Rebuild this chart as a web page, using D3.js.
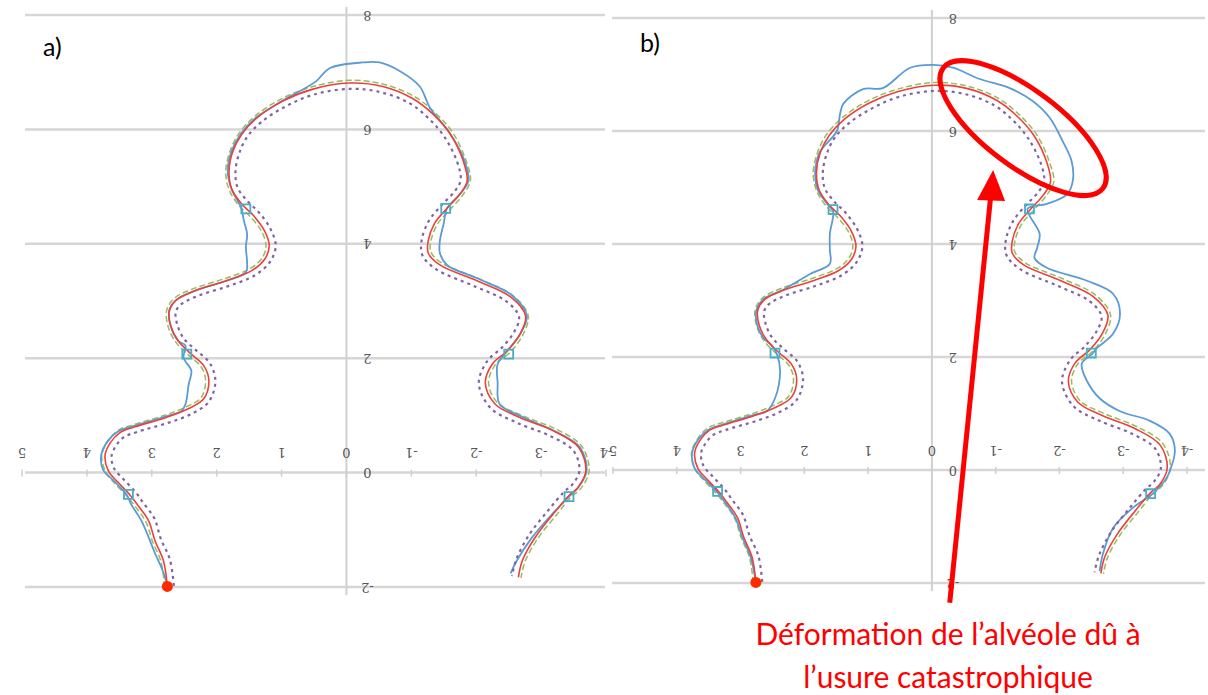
<html>
<head>
<meta charset="utf-8">
<script src="https://d3js.org/d3.v7.min.js"></script>
<style>
  body { margin: 0; background: #fff; }
  svg { display: block; }
</style>
</head>
<body>
<svg width="1208" height="695"></svg>
<script>
// tick labels (the whole figure is printed upside down, labels read rotated)
var xTicks = [5, 4, 3, 2, 1, 0, -1, -2, -3, -4];
var yTicks = [8, 6, 4, 2, 0, -2];

// nominal profile (red), same in both charts
var nominal = [
  [2.76,-1.99],[2.82,-1.54],[2.95,-1.19],[3.05,-0.84],[3.21,-0.58],[3.33,-0.40],[3.52,-0.17],[3.67,0.03],
  [3.72,0.30],[3.64,0.52],[3.49,0.70],[3.26,0.80],[2.79,0.96],[2.43,1.12],[2.20,1.29],[2.12,1.61],
  [2.20,1.87],[2.40,2.08],[2.59,2.30],[2.71,2.57],[2.73,2.83],[2.62,3.02],[2.33,3.18],[1.86,3.35],
  [1.46,3.53],[1.26,3.73],[1.19,3.96],[1.26,4.22],[1.43,4.49],[1.61,4.69],[1.77,4.96],[1.81,5.27],
  [1.75,5.62],[1.61,5.92],[1.38,6.20],[0.99,6.49],[0.53,6.70],[-0.05,6.81],[-0.56,6.75],[-1.02,6.54],
  [-1.33,6.27],[-1.60,5.92],[-1.80,5.45],[-1.86,5.10],[-1.75,4.87],[-1.55,4.62],[-1.36,4.36],[-1.26,4.05],
  [-1.26,3.84],[-1.44,3.63],[-2.02,3.35],[-2.53,3.07],[-2.76,2.74],[-2.68,2.43],[-2.48,2.13],[-2.25,1.90],
  [-2.14,1.57],[-2.29,1.20],[-2.68,0.96],[-3.19,0.73],[-3.58,0.44],[-3.69,0.03],[-3.57,-0.26],[-3.43,-0.40],
  [-3.19,-0.72],[-2.91,-1.13],[-2.71,-1.54],[-2.65,-1.83]
];

// lower tolerance (purple dotted)
var tolMin = [
  [2.66,-1.98],[2.72,-1.52],[2.86,-1.16],[2.96,-0.80],[3.13,-0.53],[3.25,-0.34],[3.44,-0.11],[3.58,0.07],
  [3.62,0.29],[3.55,0.47],[3.43,0.62],[3.23,0.71],[2.75,0.87],[2.38,1.03],[2.12,1.24],[2.02,1.61],
  [2.11,1.92],[2.33,2.15],[2.51,2.35],[2.61,2.60],[2.63,2.81],[2.55,2.94],[2.29,3.09],[1.82,3.26],
  [1.41,3.45],[1.18,3.68],[1.09,3.96],[1.17,4.26],[1.35,4.55],[1.53,4.75],[1.68,4.99],[1.71,5.27],
  [1.65,5.59],[1.53,5.87],[1.31,6.13],[0.94,6.40],[0.50,6.61],[-0.06,6.71],[-0.53,6.65],[-0.97,6.46],
  [-1.26,6.20],[-1.51,5.87],[-1.71,5.42],[-1.76,5.11],[-1.67,4.92],[-1.47,4.68],[-1.27,4.40],[-1.16,4.07],
  [-1.17,3.80],[-1.39,3.55],[-1.97,3.26],[-2.47,2.99],[-2.66,2.72],[-2.59,2.47],[-2.40,2.19],[-2.17,1.95],
  [-2.04,1.56],[-2.22,1.13],[-2.63,0.87],[-3.14,0.64],[-3.50,0.38],[-3.59,0.03],[-3.48,-0.21],[-3.35,-0.34],
  [-3.11,-0.66],[-2.82,-1.08],[-2.62,-1.51],[-2.55,-1.81]
];

// upper tolerance (green dashed)
var tolMax = [
  [2.80,-2.00],[2.86,-1.55],[2.99,-1.20],[3.09,-0.86],[3.25,-0.60],[3.37,-0.43],[3.56,-0.20],[3.71,0.01],
  [3.77,0.30],[3.68,0.54],[3.52,0.74],[3.28,0.84],[2.81,1.00],[2.45,1.16],[2.24,1.31],[2.17,1.61],
  [2.24,1.85],[2.43,2.05],[2.63,2.28],[2.75,2.56],[2.77,2.84],[2.65,3.05],[2.35,3.22],[1.88,3.39],
  [1.48,3.57],[1.30,3.75],[1.24,3.96],[1.30,4.20],[1.47,4.46],[1.65,4.66],[1.81,4.95],[1.86,5.27],
  [1.79,5.63],[1.65,5.94],[1.41,6.23],[1.01,6.53],[0.54,6.74],[-0.05,6.86],[-0.57,6.79],[-1.04,6.58],
  [-1.36,6.30],[-1.64,5.94],[-1.84,5.46],[-1.91,5.10],[-1.79,4.85],[-1.59,4.59],[-1.40,4.34],[-1.30,4.04],
  [-1.30,3.86],[-1.46,3.67],[-2.04,3.39],[-2.56,3.10],[-2.80,2.75],[-2.72,2.41],[-2.52,2.10],[-2.29,1.88],
  [-2.19,1.57],[-2.32,1.23],[-2.70,1.00],[-3.21,0.77],[-3.62,0.47],[-3.74,0.03],[-3.61,-0.28],[-3.46,-0.43],
  [-3.23,-0.75],[-2.95,-1.15],[-2.75,-1.56],[-2.69,-1.84]
];

// measured profile, chart a)
var measuredA = [
  [2.76,-1.99],[2.82,-1.75],[2.95,-1.41],[3.16,-0.84],[3.32,-0.55],[3.38,-0.40],[3.58,-0.15],[3.75,0.05],
  [3.78,0.30],[3.68,0.55],[3.52,0.72],[3.26,0.82],[2.79,0.98],[2.54,1.08],[2.48,1.20],[2.43,1.55],
  [2.39,1.78],[2.51,2.01],[2.48,2.22],[2.59,2.30],[2.71,2.57],[2.73,2.83],[2.62,3.02],[2.33,3.18],
  [1.86,3.35],[1.55,3.50],[1.53,3.65],[1.55,3.95],[1.53,4.17],[1.58,4.40],[1.62,4.62],[1.77,4.96],
  [1.83,5.27],[1.77,5.62],[1.63,5.92],[1.40,6.20],[1.00,6.49],[0.47,6.84],[0.26,7.07],[-0.25,7.17],
  [-0.51,7.17],[-0.82,7.02],[-1.13,6.75],[-1.24,6.49],[-1.29,6.37],[-1.60,5.92],[-1.82,5.45],[-1.88,5.10],
  [-1.75,4.87],[-1.55,4.62],[-1.50,4.36],[-1.44,4.05],[-1.44,3.84],[-1.55,3.63],[-2.05,3.38],[-2.55,3.10],
  [-2.78,2.74],[-2.68,2.43],[-2.48,2.13],[-2.33,1.90],[-2.33,1.57],[-2.36,1.20],[-2.70,0.98],[-3.20,0.73],
  [-3.60,0.44],[-3.70,0.03],[-3.57,-0.26],[-3.45,-0.40],[-3.15,-0.75],[-2.85,-1.15],[-2.62,-1.55],[-2.53,-1.76]
];

// measured profile, chart b) (worn)
var measuredB = [
  [2.76,-1.99],[2.84,-1.55],[2.97,-1.20],[3.08,-0.85],[3.24,-0.58],[3.36,-0.40],[3.56,-0.17],[3.72,0.03],
  [3.76,0.30],[3.67,0.53],[3.51,0.71],[3.27,0.81],[2.80,0.97],[2.59,1.04],[2.46,1.27],[2.38,1.75],
  [2.43,2.05],[2.52,2.22],[2.63,2.32],[2.74,2.57],[2.75,2.83],[2.63,3.03],[2.33,3.19],[1.91,3.47],
  [1.60,3.65],[1.60,3.90],[1.60,4.18],[1.55,4.58],[1.65,4.72],[1.79,4.96],[1.83,5.27],[1.76,5.62],
  [1.49,6.00],[1.44,6.30],[1.39,6.48],[1.08,6.74],[0.77,6.76],[0.34,7.12],[-0.02,7.17],[-0.33,7.12],
  [-0.75,6.92],[-1.22,6.76],[-1.58,6.53],[-1.85,6.23],[-2.05,5.82],[-2.19,5.47],[-2.21,5.12],[-2.12,4.88],
  [-1.80,4.71],[-1.50,4.62],[-1.69,4.18],[-1.65,3.93],[-1.61,3.75],[-1.80,3.58],[-2.43,3.35],[-2.84,3.12],
  [-2.95,2.76],[-2.84,2.41],[-2.59,2.16],[-2.51,2.05],[-2.35,1.88],[-2.43,1.58],[-2.63,1.27],[-2.95,1.04],
  [-3.42,0.87],[-3.73,0.64],[-3.81,0.34],[-3.73,-0.02],[-3.68,-0.14],[-3.46,-0.42],[-3.15,-0.67],[-2.84,-1.03],
  [-2.68,-1.49],[-2.63,-1.79]
];

// square markers on the measured profile
var squares = [[1.55,4.61],[2.46,2.07],[3.36,-0.38],[-1.53,4.62],[-2.50,2.07],[-3.43,-0.42]];
var startPoint = [[2.76,-1.99]];

var svg = d3.select('svg');

function drawPanel(cfg) {
  var x = d3.scaleLinear().domain([5, -4]).range(cfg.xr);
  var y = d3.scaleLinear().domain([-2, 8]).range(cfg.yr);
  var g = svg.append('g');

  // horizontal grid
  g.selectAll('line.grid').data(yTicks).enter().append('line')
    .attr('x1', cfg.gx[0]).attr('x2', cfg.gx[1])
    .attr('y1', function (d) { return y(d); }).attr('y2', function (d) { return y(d); })
    .style('stroke', '#d6d6d6').style('stroke-width', 2.5);

  // vertical axis at x = 0
  g.append('line')
    .attr('x1', x(0)).attr('x2', x(0))
    .attr('y1', y(8) - 8).attr('y2', y(-2) + 8)
    .style('stroke', '#d0d0d0').style('stroke-width', 2);

  // small ticks on the 0 line
  g.selectAll('line.tk').data(xTicks).enter().append('line')
    .attr('x1', function (d) { return x(d); }).attr('x2', function (d) { return x(d); })
    .attr('y1', y(0) - 3).attr('y2', y(0) + 4)
    .style('stroke', '#cfcfcf').style('stroke-width', 1.5);

  // labels, printed upside down
  g.selectAll('text.xl').data(xTicks).enter().append('text')
    .attr('transform', function (d) { return 'translate(' + x(d) + ',' + (y(0) - 20) + ') rotate(180)'; })
    .attr('text-anchor', 'middle').attr('dominant-baseline', 'central')
    .style('font-family', 'DejaVu Serif, serif').style('font-size', '13px')
    .style('fill', '#555').text(function (d) { return d; });

  g.selectAll('text.yl').data(yTicks).enter().append('text')
    .attr('transform', function (d) { return 'translate(' + (x(0) + 21) + ',' + y(d) + ') rotate(180)'; })
    .attr('text-anchor', 'middle').attr('dominant-baseline', 'central')
    .style('font-family', 'DejaVu Serif, serif').style('font-size', '13px')
    .style('fill', '#555').text(function (d) { return d; });

  var line = d3.line()
    .x(function (d) { return x(d[0]); })
    .y(function (d) { return y(d[1]); })
    .curve(d3.curveCatmullRom);

  g.append('path').attr('d', line(tolMax))
    .style('fill', 'none').style('stroke', '#9bbb59').style('stroke-width', 1.5)
    .style('stroke-dasharray', '6,3');
  g.append('path').attr('d', line(cfg.measured))
    .style('fill', 'none').style('stroke', '#5b9bd5').style('stroke-width', 1.8);
  g.append('path').attr('d', line(nominal))
    .style('fill', 'none').style('stroke', '#e8423f').style('stroke-width', 1.6);
  g.append('path').attr('d', line(tolMin))
    .style('fill', 'none').style('stroke', '#8064a2').style('stroke-width', 2.2)
    .style('stroke-dasharray', '3,4');

  g.selectAll('path.sq').data(squares).enter().append('path')
    .attr('transform', function (d) { return 'translate(' + x(d[0]) + ',' + y(d[1]) + ')'; })
    .attr('d', d3.symbol().type(d3.symbolSquare).size(80))
    .style('fill', 'none').style('stroke', '#4bacc6').style('stroke-width', 1.8);

  g.selectAll('circle.start').data(startPoint).enter().append('circle')
    .attr('cx', function (d) { return x(d[0]); })
    .attr('cy', function (d) { return y(d[1]); })
    .attr('r', 5.5).style('fill', '#ff2a00');

  g.append('text').attr('x', cfg.tag[0]).attr('y', cfg.tag[1])
    .style('font-family', 'Lato, sans-serif').style('font-size', '25px')
    .style('fill', '#000').text(cfg.label);

  return { x: x, y: y };
}

drawPanel({ xr: [22, 606], yr: [587, 15], gx: [25, 605], measured: measuredA, tag: [43, 56], label: 'a)' });
var b = drawPanel({ xr: [613, 1187], yr: [583, 18], gx: [612, 1205], measured: measuredB, tag: [640, 52], label: 'b)' });

// annotation on chart b)
var cx = b.x(-1.43), cy = b.y(6.05);
svg.append('ellipse')
  .attr('cx', 0).attr('cy', 0).attr('rx', 100).attr('ry', 38)
  .attr('transform', 'translate(' + cx + ',' + cy + ') rotate(37)')
  .style('fill', 'none').style('stroke', '#ff0000').style('stroke-width', 5);

var tipX = b.x(-0.96), tipY = b.y(5.31);
var baseX = b.x(-0.28), baseY = b.y(-2.35);
svg.append('line')
  .attr('x1', baseX).attr('y1', baseY).attr('x2', tipX - 2).attr('y2', tipY + 22)
  .style('stroke', '#ff0000').style('stroke-width', 5);
svg.append('path')
  .attr('d', 'M' + tipX + ',' + tipY + 'L' + (tipX - 16) + ',' + (tipY + 30) + 'L' + (tipX + 12) + ',' + (tipY + 31) + 'Z')
  .style('fill', '#ff0000');

var note = ['Déformation de l’alvéole dû à', 'l’usure catastrophique'];
svg.selectAll('text.note').data(note).enter().append('text')
  .attr('x', 948).attr('y', function (d, i) { return 645 + i * 43; })
  .attr('text-anchor', 'middle')
  .style('font-family', 'Lato, sans-serif').style('font-size', '30px')
  .style('fill', '#ff0000').text(function (d) { return d; });
</script>
</body>
</html>
